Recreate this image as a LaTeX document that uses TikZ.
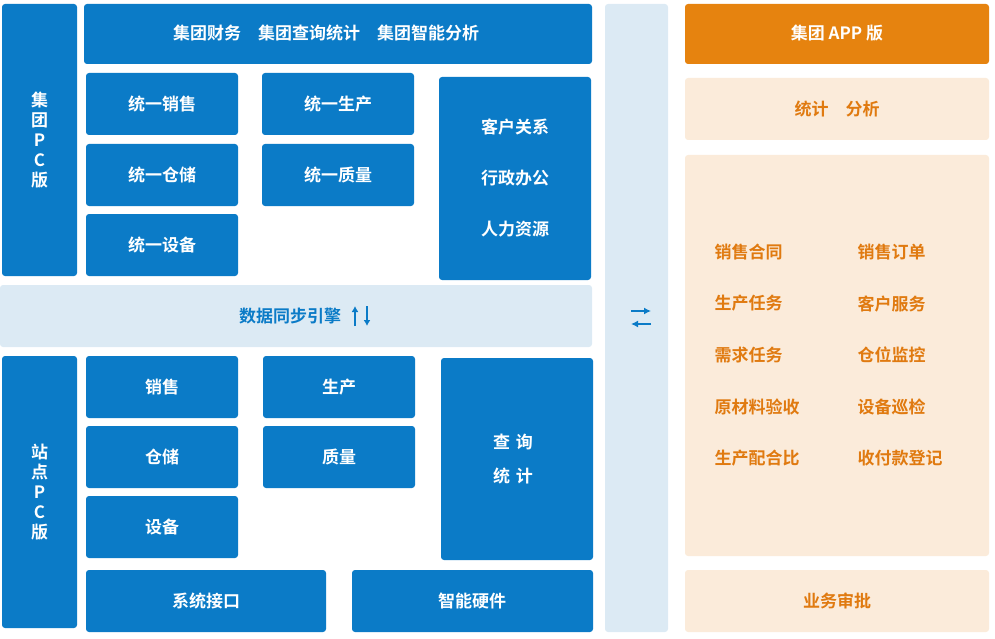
\documentclass[tikz,border=0pt]{standalone}
\usepackage{fontspec}
\usetikzlibrary{arrows.meta}
\setmainfont{Noto Sans CJK SC}[BoldFont={* Bold}]
\begin{document}
\definecolor{bl}{HTML}{0B7BC7}
\definecolor{lb}{HTML}{DCEAF4}
\definecolor{og}{HTML}{E6830F}
\definecolor{lo}{HTML}{FBEBDA}
\definecolor{ot}{HTML}{E07A10}
\begin{tikzpicture}[x=1pt,y=-1pt,
 b/.style={fill=bl,rounded corners=3pt},
 l/.style={fill=lb,rounded corners=3pt},
 o/.style={fill=lo,rounded corners=3pt},
 t/.style={font=\fontsize{17}{20}\selectfont\bfseries,text=white},
 tb/.style={font=\fontsize{17}{20}\selectfont\bfseries,text=bl},
 to/.style={font=\fontsize{17}{20}\selectfont\bfseries,text=ot}]
\useasboundingbox (0,0) rectangle (995,639);
\path[b] (2,4) rectangle (77,276); \node[t,align=center] (pc1) at (39.5,140) {集\\团\\P\\C\\版};
\path[b] (84,4) rectangle (592,64); \node[t] (top) at (326,33) {集团财务\quad 集团查询统计\quad 集团智能分析};
\path[b] (86,73) rectangle (238,135); \node[t] (a1) at (162,104) {统一销售};
\path[b] (262,73) rectangle (414,135); \node[t] (a2) at (338,104) {统一生产};
\path[b] (86,144) rectangle (238,206); \node[t] (a3) at (162,175) {统一仓储};
\path[b] (262,144) rectangle (414,206); \node[t] (a4) at (338,175) {统一质量};
\path[b] (86,214) rectangle (238,276); \node[t] (a5) at (162,245) {统一设备};
\path[b] (439,77) rectangle (591,280);
\node[t,align=center,font=\fontsize{17}{51}\selectfont\bfseries] (a6) at (515,178) {客户关系\\行政办公\\人力资源};
\path[l] (0,285) rectangle (592,347);
\node[tb] (sync) at (290,316) {数据同步引擎};
\draw[bl,line width=1.8pt,-{Latex[length=6pt,width=7pt]}] (355,326) -- (355,306);
\draw[bl,line width=1.8pt,-{Latex[length=6pt,width=7pt]}] (367,306) -- (367,326);
\path[b] (2,356) rectangle (77,628); \node[t,align=center] (pc2) at (39.5,492) {站\\点\\P\\C\\版};
\path[b] (86,356) rectangle (238,418); \node[t] (b1) at (162,387) {销售};
\path[b] (263,356) rectangle (415,418); \node[t] (b2) at (339,387) {生产};
\path[b] (86,426) rectangle (238,488); \node[t] (b3) at (162,457) {仓储};
\path[b] (263,426) rectangle (415,488); \node[t] (b4) at (339,457) {质量};
\path[b] (86,496) rectangle (238,558); \node[t] (b5) at (162,527) {设备};
\path[b] (441,358) rectangle (593,560);
\node[t,align=center,font=\fontsize{17}{34}\selectfont\bfseries] (b6) at (513,459) {查\,\,询\\统\,\,计};
\path[b] (86,570) rectangle (326,632); \node[t] (b7) at (206,601) {系统接口};
\path[b] (352,570) rectangle (593,632); \node[t] (b8) at (472,601) {智能硬件};
\path[l] (605,4) rectangle (668,632);
\draw[bl,line width=1.8pt,-{Latex[length=7pt,width=7pt]}] (631,311) -- (651,311);
\draw[bl,line width=1.8pt,-{Latex[length=7pt,width=7pt]}] (651,324) -- (631,324);
\path[fill=og,rounded corners=3pt] (685,4) rectangle (989,64); \node[t] (app) at (837,33) {集团 APP 版};
\path[o] (685,78) rectangle (989,140); \node[to] (s) at (837,109) {统计\quad 分析};
\path[o] (685,155) rectangle (989,556);
\foreach \i/\p/\q in {0/销售合同/销售订单,1/生产任务/客户服务,2/需求任务/仓位监控,3/原材料验收/设备巡检,4/生产配合比/收付款登记}{
 \node[to,anchor=west] (l\i) at (711,252+51.5*\i) {\p};
 \node[to,anchor=west] (r\i) at (854,252+51.5*\i) {\q};}
\path[o] (685,570) rectangle (989,632); \node[to] (sp) at (837,601) {业务审批};
\end{tikzpicture}
\end{document}
